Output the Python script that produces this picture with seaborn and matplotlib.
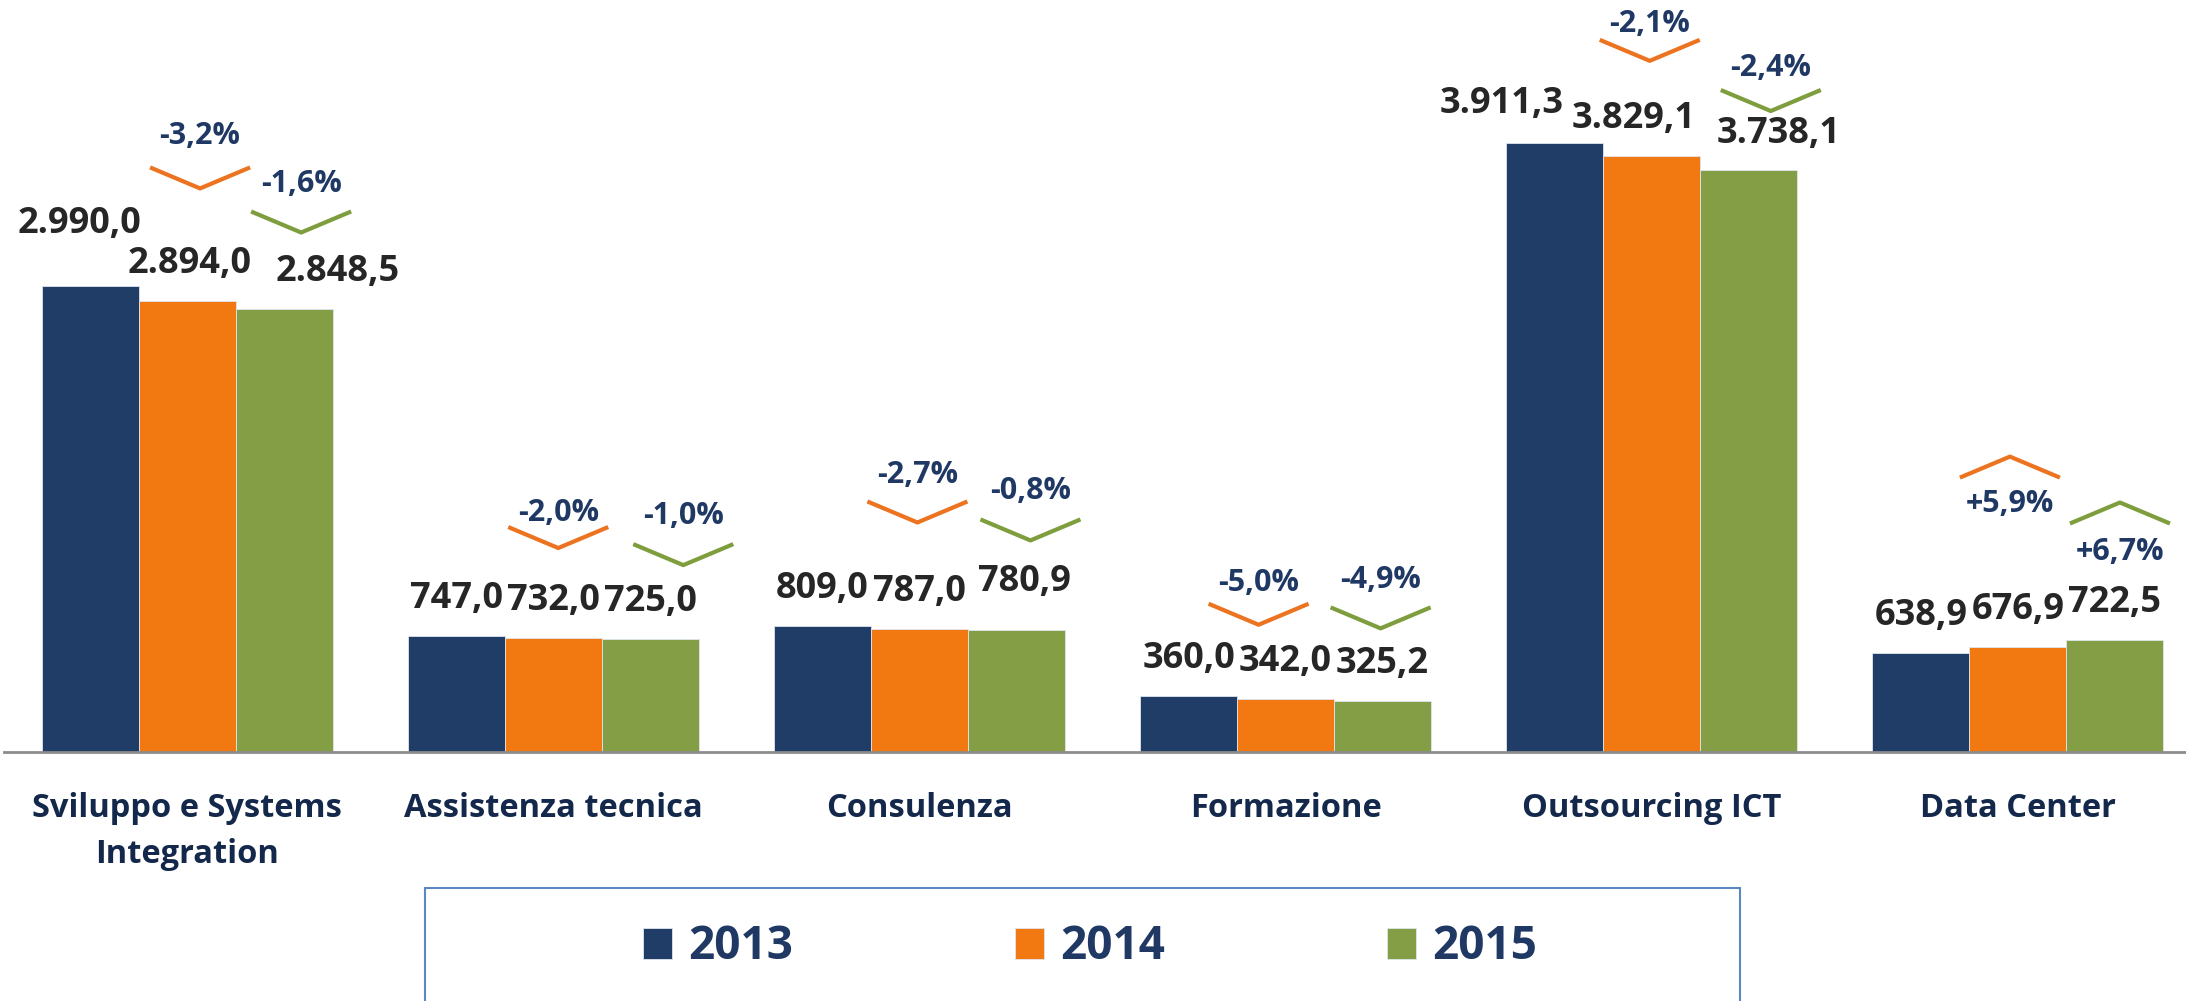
import numpy as np
import pandas as pd
import matplotlib
matplotlib.use("Agg")
import matplotlib.pyplot as plt
import seaborn as sns
from matplotlib.lines import Line2D
from matplotlib.patches import Rectangle

# --- dati ---
categories = ["Sviluppo e Systems\nIntegration", "Assistenza tecnica", "Consulenza",
              "Formazione", "Outsourcing ICT", "Data Center"]
years = ["2013", "2014", "2015"]
v2013 = [2990.0, 747.0, 809.0, 360.0, 3911.3, 638.9]
v2014 = [2894.0, 732.0, 787.0, 342.0, 3829.1, 676.9]
v2015 = [2848.5, 725.0, 780.9, 325.2, 3738.1, 722.5]

colors = ["#1F3D66", "#F27812", "#839E45"]
chev_colors = ["#EC7420", "#7E9E3E"]
navy = "#1F3864"

# spostamenti manuali delle etichette (px): (cat, anno) -> (dx, dy sopra la barra)
label_nudge = {(0, 0): (-11, 62), (0, 1): (2, 37), (0, 2): (54, 37),
               (2, 2): (8, 48),
               (4, 0): (-53, 39), (4, 1): (-18, 37), (4, 2): (30, 36)}
# vertice delle frecce (px) rispetto alla barra dell'anno successivo,
# piu' distanza dell'etichetta % dal vertice
chev_nudge = [[(13, 113, 52), (17, 76, 49)], [(5, 90, 35), (33, 74, 49)],
              [(-2, 107, 47), (14, 90, 49)], [(-27, 74, 42), (-2, 73, 48)],
              [(-2, 95, 37), (22, 59, 43)], [(-8, 190, 47), (5, 137, 49)]]


def it_fmt(v):
    s = f"{v:,.1f}"
    return s.replace(",", "X").replace(".", ",").replace("X", ".")


df = pd.DataFrame({
    "cat": categories * 3,
    "year": [y for y in years for _ in categories],
    "val": v2013 + v2014 + v2015,
})

sns.set_style("white")
plt.rcParams["font.family"] = ["Open Sans", "DejaVu Sans"]
plt.rcParams["font.weight"] = "bold"

W, H = 2186, 1001
fig = plt.figure(figsize=(W / 100, H / 100), dpi=100)
ax = fig.add_axes([4 / W, 1 - 752 / H, 2197 / W, 752 / H])

sns.barplot(data=df, x="cat", y="val", hue="year", palette=colors, width=0.795,
            saturation=1, ax=ax, edgecolor="#dfe6ee", linewidth=0.6)
ax.set_xlim(-0.5, 5.5)
ax.set_ylim(0, 4830)
ax.set_xlabel("")
ax.set_ylabel("")
ax.set_yticks([])
for s in ["top", "right", "left"]:
    ax.spines[s].set_visible(False)
ax.spines["bottom"].set_color("#8c8c8c")
ax.spines["bottom"].set_linewidth(2)

ax.set_xticks(range(len(categories)))
ax.set_xticklabels(categories, fontsize=23.5, fontweight="bold", color="#13284A",
                   linespacing=1.5)
ax.tick_params(axis="x", which="major", length=0, pad=29)
ax.set_xticks(np.arange(-0.5, 6, 1), minor=True)
ax.tick_params(axis="x", which="minor", length=9.5, width=1.5, color="#8c8c8c",
               direction="out")

handles, labels = ax.get_legend_handles_labels()
ax.get_legend().remove()

fig.canvas.draw()
to_px = ax.transData.transform

# etichette valori
tops = []
for j, cont in enumerate(ax.containers):
    row = []
    for i, rect in enumerate(cont):
        cx = rect.get_x() + rect.get_width() / 2
        h = rect.get_height()
        px, py = to_px((cx, h))
        row.append((px, py))
        dx, dy = label_nudge.get((i, j), (0, 37))
        fig.text((px + dx) / W, (py + dy) / H, it_fmt(h), ha="center", va="center",
                 fontsize=26, fontweight="bold", color="#262626")
    tops.append(row)

# frecce di variazione
series = [v2013, v2014, v2015]
half_w, depth = 50, 21
for i in range(len(categories)):
    for k in range(2):
        prev, cur = series[k][i], series[k + 1][i]
        pct = (cur - prev) / prev * 100
        px, py = tops[k + 1][i]
        dx, dy, gap = chev_nudge[i][k]
        vx, vy = px + dx, py + dy
        if pct < 0:
            ys = [vy + depth, vy, vy + depth]
            ty = vy + gap
        else:
            ys = [vy - depth, vy, vy - depth]
            ty = vy - gap
        xs = [vx - half_w, vx, vx + half_w]
        fig.add_artist(Line2D([x / W for x in xs], [y / H for y in ys],
                              color=chev_colors[k], lw=3, solid_capstyle="butt"))
        txt = f"{pct:+.1f}%".replace(".", ",")
        fig.text(vx / W, ty / H, txt, ha="center", va="center", fontsize=22,
                 fontweight="bold", color=navy)

# legenda
fig.add_artist(Rectangle((425 / W, -0.05), 1315 / W, 0.05 + 1 - 888 / H,
                         transform=fig.transFigure, facecolor="none",
                         edgecolor="#5B87C5", lw=1.5))
leg = fig.legend(handles, labels, loc="center", bbox_to_anchor=(0.4986, 0.054),
                 ncol=3, frameon=False, handlelength=0.63,
                 handleheight=0.66, handletextpad=0.35, columnspacing=4.85,
                 prop={"weight": "bold", "size": 33})
for t in leg.get_texts():
    t.set_color(navy)

fig.savefig("out.png", dpi=100)
